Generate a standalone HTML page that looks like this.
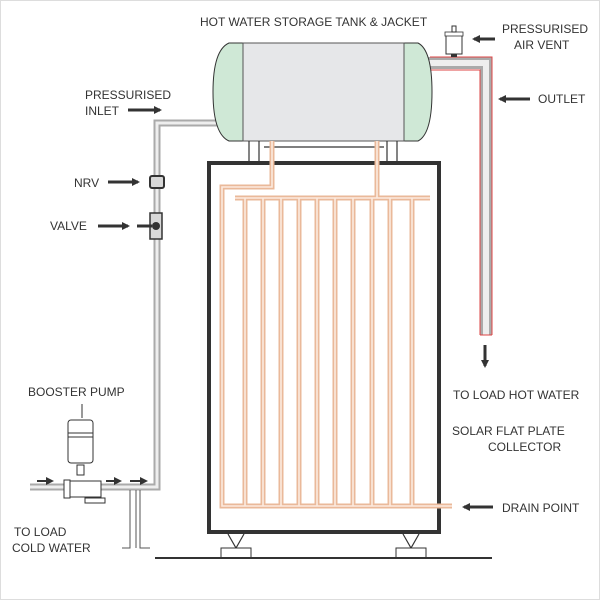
<!DOCTYPE html>
<html><head><meta charset="utf-8"><style>
html,body{margin:0;padding:0;background:#fff}
svg{display:block}
text{font-family:"Liberation Sans",sans-serif;font-size:12px;fill:#333}
</style></head><body>
<svg width="600" height="600" viewBox="0 0 600 600">
<defs>
<marker id="ah" markerWidth="8" markerHeight="8" refX="6" refY="4" orient="auto" markerUnits="userSpaceOnUse"><path d="M0,0 L8,4 L0,8 z" fill="#333"/></marker>
</defs>
<rect x="0.5" y="0.5" width="599" height="599" fill="#fff" stroke="#ddd"/>
<!-- inlet gray pipe -->
<path d="M220,123 H157 V487 H30" fill="none" stroke="#aaa" stroke-width="7"/>
<path d="M220,123 H157 V487 H30" fill="none" stroke="#eee" stroke-width="3"/>
<!-- cold water pipes down -->
<path d="M130,490 V548 H122 M136,490 V548 M140,490 V548 H150" fill="none" stroke="#555" stroke-width="1"/>
<!-- outlet pipe -->
<path d="M425,63 H486 V335" fill="none" stroke="#aaa" stroke-width="12"/>
<path d="M425,63 H486 V335" fill="none" stroke="#eee" stroke-width="6"/>
<path d="M430,57 H492 V335 M430,70 H480 V335" fill="none" stroke="#d44" stroke-width="1"/>
<path d="M480,335 H492" stroke="#d44" stroke-width="1"/>
<!-- air vent -->
<rect x="446" y="34" width="16" height="20" fill="#fff" stroke="#333"/>
<rect x="445" y="32" width="18" height="4" fill="#fff" stroke="#333" stroke-width="0.8"/>
<rect x="452" y="26" width="4" height="6" fill="#fff" stroke="#333"/>
<rect x="451" y="54" width="6" height="3" fill="#333"/>
<!-- tank -->
<path d="M243,43 H229 Q213,50 213,92 Q213,134 229,141 H243 Z" fill="#cfe8d6" stroke="#333"/>
<path d="M404,43 H418 Q432,50 432,92 Q432,134 418,141 H404 Z" fill="#cfe8d6" stroke="#333"/>
<rect x="243" y="43" width="161" height="98" fill="#e6e7e9" stroke="#555"/>
<!-- legs -->
<path d="M249,141 V162 M259,141 V162 M387,141 V162 M397,141 V162 M264,147 H384" stroke="#333" stroke-width="1.2"/>
<!-- collector frame -->
<rect x="209" y="163" width="230" height="369" fill="#fff" stroke="#333" stroke-width="4"/>
<!-- copper -->
<g fill="none" stroke-linejoin="miter">
<g stroke="#eab99a" stroke-width="5">
<path d="M272,141 V187 H222 V506 H452"/>
<path d="M377,141 V198 M235,198 H430"/>
<path d="M245,198 V506 M263,198 V506 M281,198 V506 M299,198 V506 M317,198 V506 M335,198 V506 M353,198 V506 M372,198 V506 M390,198 V506 M412,198 V506"/>
</g>
<g stroke="#fcebdf" stroke-width="1.6">
<path d="M272,141 V187 H222 V506 H452"/>
<path d="M377,141 V198 M235,198 H430"/>
<path d="M245,198 V506 M263,198 V506 M281,198 V506 M299,198 V506 M317,198 V506 M335,198 V506 M353,198 V506 M372,198 V506 M390,198 V506 M412,198 V506"/>
</g>
</g>
<!-- supports -->
<path d="M228,534 L236,548 L244,534 M403,534 L411,548 L419,534" fill="none" stroke="#333" stroke-width="1.2"/>
<rect x="221" y="548" width="30" height="10" fill="#fff" stroke="#333"/>
<rect x="396" y="548" width="30" height="10" fill="#fff" stroke="#333"/>
<path d="M155,558 H492" stroke="#333" stroke-width="2"/>
<!-- NRV and valve -->
<rect x="150" y="176" width="14" height="12" rx="2" fill="#d8d8d8" stroke="#333" stroke-width="2"/>
<rect x="150" y="213" width="12" height="26" fill="#d8d8d8" stroke="#333" stroke-width="1.5"/>
<circle cx="156" cy="226" r="4" fill="#333"/>
<path d="M137,226 H152" stroke="#333" stroke-width="3"/>
<!-- booster pump -->
<path d="M82,404 V418" stroke="#333"/>
<rect x="68" y="420" width="25" height="43" rx="3" fill="#fff" stroke="#333"/>
<path d="M68,433 H93 M68,437 H93" stroke="#333"/>
<rect x="77" y="465" width="7" height="10" fill="#fff" stroke="#333"/>
<rect x="67" y="481" width="34" height="16" fill="#fff" stroke="#333"/>
<rect x="64" y="480" width="6" height="18" fill="#fff" stroke="#333"/>
<rect x="85" y="498" width="20" height="5" fill="#fff" stroke="#333"/>
<!-- arrows -->
<g stroke="#333" stroke-width="3" marker-end="url(#ah)">
<path d="M495,39 H474"/>
<path d="M530,99 H500"/>
<path d="M128,110 H160"/>
<path d="M108,182 H138"/>
<path d="M98,226 H128"/>
<path d="M485,345 V366"/>
<path d="M493,507 H464"/>
</g>
<g stroke="#333" stroke-width="2" marker-end="url(#ah)">
<path d="M37,481 H52"/><path d="M106,481 H120"/><path d="M130,481 H146"/>
</g>
<!-- labels -->
<text x="200" y="26">HOT WATER STORAGE TANK &amp; JACKET</text>
<text x="502" y="33">PRESSURISED</text>
<text x="514" y="49">AIR VENT</text>
<text x="538" y="103">OUTLET</text>
<text x="85" y="99">PRESSURISED</text>
<text x="85" y="115">INLET</text>
<text x="74" y="187">NRV</text>
<text x="50" y="230">VALVE</text>
<text x="28" y="396">BOOSTER PUMP</text>
<text x="453" y="399">TO LOAD HOT WATER</text>
<text x="452" y="435">SOLAR FLAT PLATE</text>
<text x="488" y="451">COLLECTOR</text>
<text x="502" y="512">DRAIN POINT</text>
<text x="14" y="536">TO LOAD</text>
<text x="12" y="552">COLD WATER</text>
</svg>
</body></html>
